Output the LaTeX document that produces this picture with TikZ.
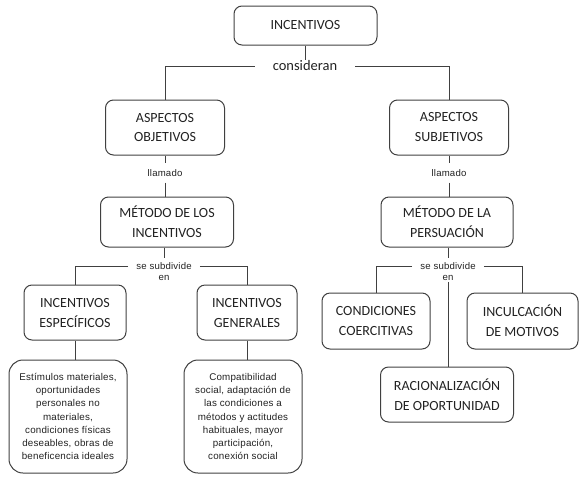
\documentclass[tikz,border=0pt]{standalone}
\usepackage{fontspec}
\newfontfamily\carlito{Carlito}
\newfontfamily\libsans[LetterSpace=2]{Liberation Sans}
\definecolor{ln}{HTML}{404040}
\definecolor{tx}{HTML}{222222}
\tikzset{
  box/.style={draw=ln, line width=1pt, rounded corners=8pt, align=center, inner sep=0pt,
    text=tx, font=\carlito\fontsize{14}{20}\selectfont},
  descbox/.style={draw=ln, line width=1pt, rounded corners=14pt, align=center, inner sep=0pt,
    text=tx, font=\libsans\fontsize{9.8}{13.3}\selectfont, minimum width=118pt, minimum height=113pt},
  lbl/.style={text=tx, inner xsep=8pt, inner ysep=4pt, font=\libsans\fontsize{9.6}{11}\selectfont},
  conn/.style={draw=ln, line width=1pt}
}
\begin{document}
\begin{tikzpicture}[x=1pt,y=-1pt]
\useasboundingbox (0,0) rectangle (583,480);
% main boxes
\node[box, minimum width=143pt, minimum height=39pt] (inc) at (305.5,25.5) {INCENTIVOS};
\node[text=tx, font=\carlito\fontsize{14.5}{17}\selectfont, inner xsep=18pt, inner ysep=1pt] (cons) at (305,66) {consideran};
\node[box, minimum width=119pt, minimum height=55pt] (aobj) at (165,127.5) {ASPECTOS\\OBJETIVOS};
\node[box, minimum width=119pt, minimum height=55pt] (asub) at (449,127.5) {ASPECTOS\\SUBJETIVOS};
\node[lbl, inner ysep=6pt] (ll1) at (165,173) {llamado};
\node[lbl, inner ysep=6pt] (ll2) at (449,173) {llamado};
\node[box, minimum width=133pt, minimum height=50pt] (mlos) at (167,222) {MÉTODO DE LOS\\INCENTIVOS};
\node[box, minimum width=132pt, minimum height=50pt] (mper) at (447,222) {MÉTODO DE LA\\PERSUACIÓN};
\node[lbl] (ss1) at (164,266) {se subdivide};
\node[lbl, inner ysep=1pt] (en1) at (164,278) {en};
\node[lbl] (ss2) at (448,266) {se subdivide};
\node[lbl, inner ysep=1pt] (en2) at (448,278) {en};
\node[box, minimum width=102pt, minimum height=55pt] (iesp) at (75,312.5) {INCENTIVOS\\ESPECÍFICOS};
\node[box, minimum width=100pt, minimum height=55pt] (igen) at (247,312.5) {INCENTIVOS\\GENERALES};
\node[box, minimum width=108pt, minimum height=56pt] (cond) at (376,321) {CONDICIONES\\COERCITIVAS};
\node[box, minimum width=111pt, minimum height=56pt] (incul) at (522.5,321) {INCULCACIÓN\\DE MOTIVOS};
\node[box, minimum width=133pt, minimum height=55pt] (rac) at (447,394.5) {RACIONALIZACIÓN\\DE OPORTUNIDAD};
\node[descbox] (best) at (68,416.5) {Estímulos materiales,\\oportunidades\\personales no\\materiales,\\condiciones físicas\\deseables, obras de\\beneficencia ideales};
\node[descbox] (bgen) at (243,416.5) {Compatibilidad\\social, adaptación de\\las condiciones a\\métodos y actitudes\\habituales, mayor\\participación,\\conexión social};
% connectors
\draw[conn] (inc.south) -- (inc.south |- cons.north);
\draw[conn] (cons.west) -| (aobj.north);
\draw[conn] (cons.east) -| (asub.north);
\draw[conn] (aobj.south) -- (ll1.north);
\draw[conn] (ll1.south) -- (ll1.south |- mlos.north);
\draw[conn] (asub.south) -- (ll2.north);
\draw[conn] (ll2.south) -- (ll2.south |- mper.north);
\draw[conn] (mlos.south -| ss1.north) -- (ss1.north);
\draw[conn] (mper.south -| ss2.north) -- (ss2.north);
\draw[conn] (ss1.west) -| (iesp.north);
\draw[conn] (ss1.east) -| (igen.north);
\draw[conn] (ss2.west) -| (cond.north);
\draw[conn] (ss2.east) -| (incul.north);
\draw[conn] (en2.south) -- (en2.south |- rac.north);
\draw[conn] (iesp.south) -- (iesp.south |- best.north);
\draw[conn] (igen.south) -- (igen.south |- bgen.north);
\end{tikzpicture}
\end{document}
